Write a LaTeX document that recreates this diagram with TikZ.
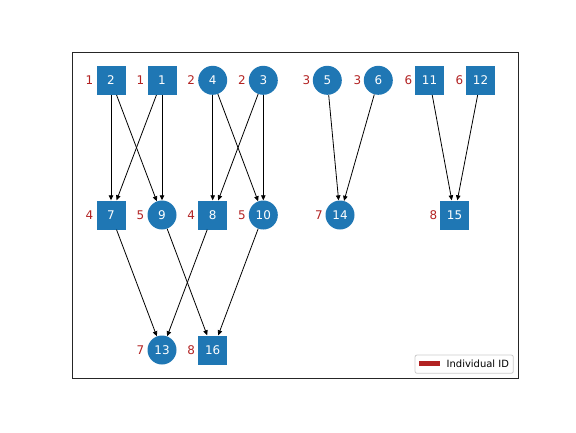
\documentclass[tikz,border=0pt]{standalone}
\usepackage{fontspec}
\setmainfont{DejaVu Sans}
\usetikzlibrary{arrows.meta}
\definecolor{nodeblue}{HTML}{1F77B4}
\definecolor{idred}{HTML}{B22222}
\tikzset{
  pnode/.style={fill=nodeblue, text=white, inner sep=0pt, font=\fontsize{12}{14}\selectfont},
  sqnode/.style={pnode, rectangle, minimum size=29bp},
  cinode/.style={pnode, circle, minimum size=29bp},
  idlabel/.style={text=idred, font=\fontsize{12}{14}\selectfont, inner sep=0pt},
  edge/.style={draw=black, line width=0.8bp, -{Triangle[length=5bp,width=4.5bp]}},
  legendbox/.style={draw=black!20, fill=white, rounded corners=2bp, line width=0.8bp},
}
\begin{document}
\begin{tikzpicture}[x=1bp, y=-1bp]
\useasboundingbox (0,0) rectangle (576,432);
\draw[line width=0.8bp, black!85] (72,52.5) rectangle (518.3,378.3);

% row 1
\node[sqnode] (n2) at (111,80.3) {2};
\node[sqnode] (n1) at (162,80.3) {1};
\node[cinode] (n4) at (212.7,80.3) {4};
\node[cinode] (n3) at (263.3,80.3) {3};
\node[cinode] (n5) at (327.3,80.3) {5};
\node[cinode] (n6) at (378.3,80.3) {6};
\node[sqnode] (n11) at (429.5,80.3) {11};
\node[sqnode] (n12) at (480.5,80.3) {12};
% row 2
\node[sqnode] (n7) at (111,215) {7};
\node[cinode] (n9) at (162,215) {9};
\node[sqnode] (n8) at (212.7,215) {8};
\node[cinode] (n10) at (263.3,215) {10};
\node[cinode] (n14) at (340,215) {14};
\node[sqnode] (n15) at (454.5,215) {15};
% row 3
\node[cinode] (n13) at (162,350) {13};
\node[sqnode] (n16) at (212.7,350) {16};

% labels
\node[idlabel] (l2) at (89.5,80.3) {1};
\node[idlabel] (l1) at (140.5,80.3) {1};
\node[idlabel] (l4) at (191.2,80.3) {2};
\node[idlabel] (l3) at (241.8,80.3) {2};
\node[idlabel] (l5) at (306.3,80.3) {3};
\node[idlabel] (l6) at (357.3,80.3) {3};
\node[idlabel] (l11) at (408.3,80.3) {6};
\node[idlabel] (l12) at (459.3,80.3) {6};
\node[idlabel] (l7) at (89.5,215) {4};
\node[idlabel] (l9) at (140.5,215) {5};
\node[idlabel] (l8) at (191.2,215) {4};
\node[idlabel] (l10) at (241.8,215) {5};
\node[idlabel] (l14) at (319,215) {7};
\node[idlabel] (l15) at (433.3,215) {8};
\node[idlabel] (l13) at (140.5,350) {7};
\node[idlabel] (l16) at (191.2,350) {8};

% edges
\path[edge] (n2) -- (n7);
\path[edge] (n2) -- (n9);
\path[edge] (n1) -- (n7);
\path[edge] (n1) -- (n9);
\path[edge] (n4) -- (n8);
\path[edge] (n4) -- (n10);
\path[edge] (n3) -- (n8);
\path[edge] (n3) -- (n10);
\path[edge] (n5) -- (n14);
\path[edge] (n6) -- (n14);
\path[edge] (n11) -- (n15);
\path[edge] (n12) -- (n15);
\path[edge] (n7) -- (n13);
\path[edge] (n8) -- (n13);
\path[edge] (n9) -- (n16);
\path[edge] (n10) -- (n16);

% legend
\draw[legendbox] (415,355) rectangle (513.3,373.3);
\fill[idred] (419,360.7) rectangle (440,366.3);
\node[anchor=west, inner sep=0pt, font=\fontsize{10}{12}\selectfont] (legtext) at (446.5,364) {Individual ID};
\end{tikzpicture}
\end{document}
